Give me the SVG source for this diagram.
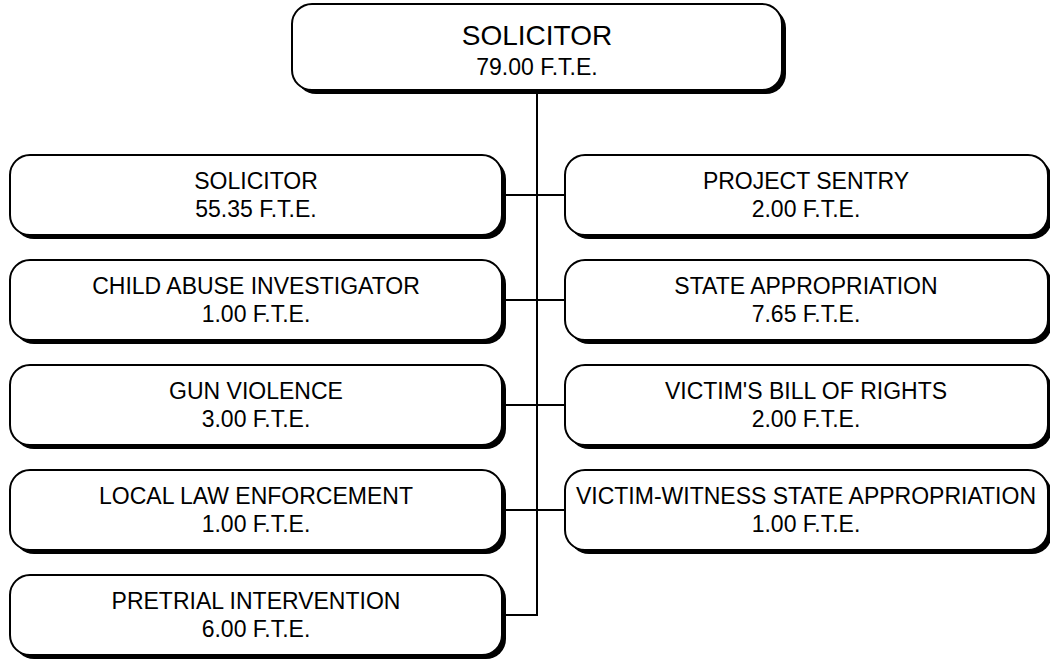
<svg xmlns="http://www.w3.org/2000/svg" width="1050" height="659" viewBox="0 0 1050 659">
<defs>
<style>
.sh{fill:#000}
.bx{fill:#fff;stroke:#000;stroke-width:2}
.t{font-family:"Liberation Sans",Arial,sans-serif;font-size:23px;fill:#000;text-anchor:middle}
.tt{font-family:"Liberation Sans",Arial,sans-serif;font-size:28px;fill:#000;text-anchor:middle}
.ts{font-family:"Liberation Sans",Arial,sans-serif;font-size:23px;fill:#000;text-anchor:middle}
.c{fill:none;stroke:#000;stroke-width:2}
</style>
</defs>
<rect width="1050" height="659" fill="#fff"/>
<g id="connectors">
<path class="c" d="M537 92 V615 H506"/>
<path class="c" d="M506 195 H565 M506 300 H565 M506 405 H565 M506 510 H565"/>
</g>
<g id="top">
<rect class="sh" x="296" y="8" width="490" height="86" rx="20"/>
<rect class="bx" x="292" y="4" width="490" height="86" rx="20"/>
<text class="tt" x="537" y="45">SOLICITOR</text>
<text class="ts" x="537" y="75">79.00 F.T.E.</text>
</g>
<g id="l1">
<rect class="sh" x="14" y="159" width="492" height="80" rx="20"/>
<rect class="bx" x="10" y="155" width="492" height="80" rx="20"/>
<text class="t" x="256" y="189">SOLICITOR</text>
<text class="t" x="256" y="217">55.35 F.T.E.</text>
</g>
<g id="l2">
<rect class="sh" x="14" y="264" width="492" height="80" rx="20"/>
<rect class="bx" x="10" y="260" width="492" height="80" rx="20"/>
<text class="t" x="256" y="294">CHILD ABUSE INVESTIGATOR</text>
<text class="t" x="256" y="322">1.00 F.T.E.</text>
</g>
<g id="l3">
<rect class="sh" x="14" y="369" width="492" height="80" rx="20"/>
<rect class="bx" x="10" y="365" width="492" height="80" rx="20"/>
<text class="t" x="256" y="399">GUN VIOLENCE</text>
<text class="t" x="256" y="427">3.00 F.T.E.</text>
</g>
<g id="l4">
<rect class="sh" x="14" y="474" width="492" height="80" rx="20"/>
<rect class="bx" x="10" y="470" width="492" height="80" rx="20"/>
<text class="t" x="256" y="504">LOCAL LAW ENFORCEMENT</text>
<text class="t" x="256" y="532">1.00 F.T.E.</text>
</g>
<g id="l5">
<rect class="sh" x="14" y="579" width="492" height="80" rx="20"/>
<rect class="bx" x="10" y="575" width="492" height="80" rx="20"/>
<text class="t" x="256" y="609">PRETRIAL INTERVENTION</text>
<text class="t" x="256" y="637">6.00 F.T.E.</text>
</g>
<g id="r1">
<rect class="sh" x="569" y="159" width="483" height="80" rx="20"/>
<rect class="bx" x="565" y="155" width="483" height="80" rx="20"/>
<text class="t" x="806" y="189">PROJECT SENTRY</text>
<text class="t" x="806" y="217">2.00 F.T.E.</text>
</g>
<g id="r2">
<rect class="sh" x="569" y="264" width="483" height="80" rx="20"/>
<rect class="bx" x="565" y="260" width="483" height="80" rx="20"/>
<text class="t" x="806" y="294">STATE APPROPRIATION</text>
<text class="t" x="806" y="322">7.65 F.T.E.</text>
</g>
<g id="r3">
<rect class="sh" x="569" y="369" width="483" height="80" rx="20"/>
<rect class="bx" x="565" y="365" width="483" height="80" rx="20"/>
<text class="t" x="806" y="399">VICTIM'S BILL OF RIGHTS</text>
<text class="t" x="806" y="427">2.00 F.T.E.</text>
</g>
<g id="r4">
<rect class="sh" x="569" y="474" width="483" height="80" rx="20"/>
<rect class="bx" x="565" y="470" width="483" height="80" rx="20"/>
<text class="t" x="806" y="504">VICTIM-WITNESS STATE APPROPRIATION</text>
<text class="t" x="806" y="532">1.00 F.T.E.</text>
</g>
</svg>
